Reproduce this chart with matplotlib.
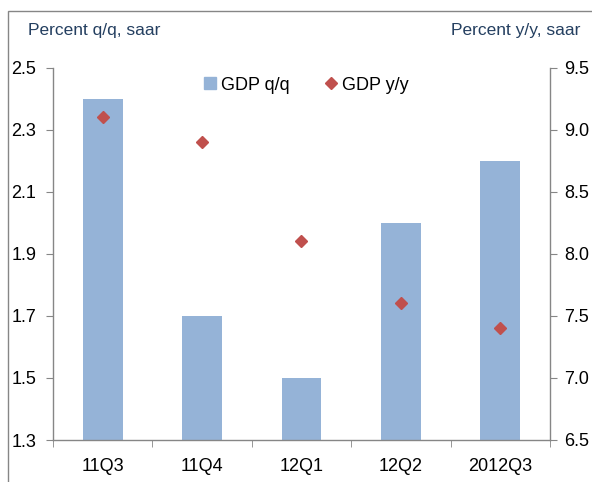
"""GDP q/q bars with y/y diamonds on a second axis"""

import numpy as np
import matplotlib
matplotlib.use('Agg')
import matplotlib.pyplot as plt
from matplotlib.patches import Rectangle
from matplotlib.lines import Line2D

plt.rcParams['font.family'] = ['Liberation Sans', 'DejaVu Sans']

quarters = ['11Q3', '11Q4', '12Q1', '12Q2', '2012Q3']
gdp_qq = [2.4, 1.7, 1.5, 2.0, 2.2]
gdp_yy = [9.1, 8.9, 8.1, 7.6, 7.4]

left_ticks = [1.3, 1.5, 1.7, 1.9, 2.1, 2.3, 2.5]
right_ticks = [6.5, 7.0, 7.5, 8.0, 8.5, 9.0, 9.5]

BAR_COLOR = '#95B3D7'
DOT_COLOR = '#C0504D'
AXIS_COLOR = '#868686'
TITLE_COLOR = '#243F60'

fig = plt.figure(figsize=(5.92, 4.82), dpi=100)
W, H = 592, 482

# outer frame of the chart object
fig.patches.append(Rectangle((8 / W, -0.1), 1.2, 1 - 11 / H + 0.1,
                             transform=fig.transFigure, fill=False,
                             edgecolor=AXIS_COLOR, linewidth=1.0))

ax = fig.add_axes([53 / W, 1 - 440 / H, (550 - 53) / W, (440 - 67.5) / H])
ax2 = ax.twinx()

x = np.arange(len(quarters))
ax.bar(x, gdp_qq, width=0.4, color=BAR_COLOR, bottom=0, zorder=2)
ax2.plot(x, gdp_yy, linestyle='none', marker='D', markersize=6,
         color=DOT_COLOR, zorder=3)

ax.set_xlim(-0.5, len(quarters) - 0.5)
ax.set_ylim(1.3, 2.5)
ax2.set_ylim(6.5, 9.5)

ax.set_yticks(left_ticks)
ax.set_yticklabels([f'{v:.1f}' for v in left_ticks])
ax2.set_yticks(right_ticks)
ax2.set_yticklabels([f'{v:.1f}' for v in right_ticks])

ax.set_xticks(x)
ax.set_xticklabels(quarters)
ax.set_xticks(np.arange(-0.5, len(quarters)), minor=True)
ax.tick_params(axis='x', which='major', length=0, pad=13, labelsize=13)
ax.tick_params(axis='x', which='minor', length=5, direction='out',
               color=AXIS_COLOR)
ax.tick_params(axis='y', length=5, direction='out', color=AXIS_COLOR,
               labelsize=13, pad=7)
ax2.tick_params(axis='y', length=5, direction='out', color=AXIS_COLOR,
                labelsize=13, pad=5)

for a in (ax, ax2):
    a.spines['top'].set_visible(False)
    for side in ('left', 'right', 'bottom'):
        a.spines[side].set_color(AXIS_COLOR)
        a.spines[side].set_linewidth(1.0)
ax.spines['right'].set_visible(False)
ax2.spines['left'].set_visible(False)
ax2.spines['bottom'].set_visible(False)

fig.text(28 / W, 1 - 30 / H, 'Percent q/q, saar', color=TITLE_COLOR,
         fontsize=12.5, ha='left', va='center')
fig.text(580 / W, 1 - 30 / H, 'Percent y/y, saar', color=TITLE_COLOR,
         fontsize=12.5, ha='right', va='center')

handles = [
    Line2D([], [], linestyle='none', marker='s', markersize=8,
           color=BAR_COLOR),
    Line2D([], [], linestyle='none', marker='D', markersize=6,
           color=DOT_COLOR),
]
ax2.legend(handles, ['GDP q/q', 'GDP y/y'], loc='upper center',
           bbox_to_anchor=(0.51, 1.0), ncol=2, frameon=False,
           fontsize=13, handlelength=0.6, handletextpad=0.3,
           columnspacing=2.0, borderaxespad=0.1)

fig.savefig('out.png', dpi=100)
